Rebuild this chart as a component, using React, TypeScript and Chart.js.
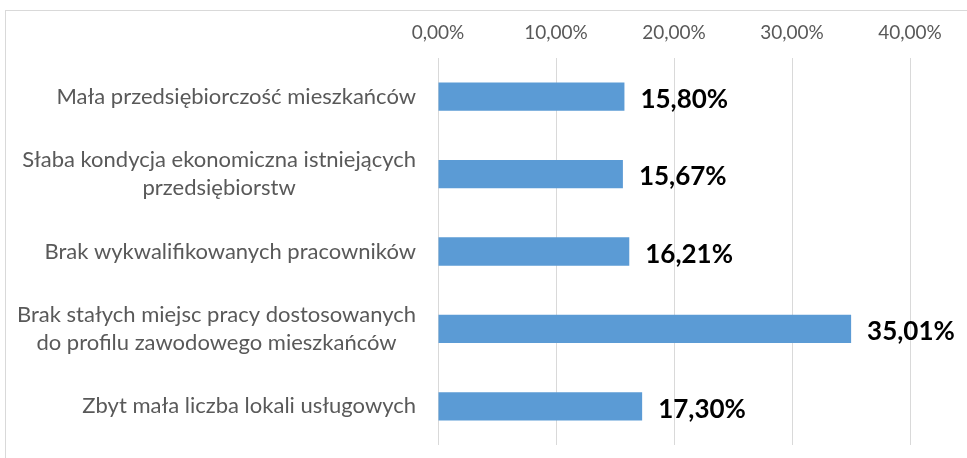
import React, { useEffect, useRef } from "react";
import { Chart, registerables } from "chart.js";

Chart.register(...registerables);

const categories: string[][] = [
  ["Mała przedsiębiorczość mieszkańców"],
  ["Słaba kondycja ekonomiczna istniejących", "przedsiębiorstw"],
  ["Brak wykwalifikowanych pracowników"],
  ["Brak stałych miejsc pracy dostosowanych", "do profilu zawodowego mieszkańców"],
  ["Zbyt mała liczba lokali usługowych"],
];
const values: number[] = [15.8, 15.67, 16.21, 35.01, 17.3];
const tickValues: number[] = [0, 10, 20, 30, 40];

const FONT = "Lato, 'Open Sans', sans-serif";
const fmt = (v: number) => v.toFixed(2).replace(".", ",") + "%";

const labelPlugin = {
  id: "customLabels",
  afterDatasetsDraw(chart: any) {
    const ctx = chart.ctx;
    const yScale = chart.scales.y;
    const xScale = chart.scales.x;
    const area = chart.chartArea;
    ctx.save();
    // category labels
    ctx.font = `22px ${FONT}`;
    ctx.fillStyle = "#595959";
    ctx.textBaseline = "middle";
    categories.forEach((lines, i) => {
      const yc = yScale.getPixelForValue(i);
      const widths = lines.map((l) => ctx.measureText(l).width);
      const maxW = Math.max(...widths);
      const right = area.left - 22;
      const center = right - maxW / 2;
      const lh = 28;
      const y0 = yc - ((lines.length - 1) * lh) / 2;
      ctx.textAlign = "center";
      lines.forEach((l, j) => ctx.fillText(l, center, y0 + j * lh));
    });
    // value labels
    ctx.font = `bold 26px ${FONT}`;
    ctx.fillStyle = "#000000";
    ctx.textAlign = "left";
    values.forEach((v, i) => {
      const x = xScale.getPixelForValue(v);
      const y = yScale.getPixelForValue(i);
      ctx.fillText(fmt(v), x + 16, y + 3);
    });
    ctx.restore();
  },
};

export default function App() {
  const ref = useRef<HTMLCanvasElement>(null);
  useEffect(() => {
    if (!ref.current) return;
    const chart = new Chart(ref.current, {
      type: "bar",
      data: {
        labels: categories.map((c) => c.join(" ")),
        datasets: [
          {
            data: values,
            backgroundColor: "#5B9BD5",
            barPercentage: 0.61,
            categoryPercentage: 0.6,
          },
        ],
      },
      options: {
        indexAxis: "y",
        animation: false,
        responsive: false,
        maintainAspectRatio: false,
        layout: { padding: { left: 438, right: 57, top: 8, bottom: 13 } },
        plugins: { legend: { display: false }, tooltip: { enabled: false } },
        scales: {
          x: {
            position: "top",
            min: 0,
            max: 40,
            afterBuildTicks: (scale: any) => {
              scale.ticks = tickValues.map((v) => ({ value: v }));
            },
            afterFit: (scale: any) => {
              scale.height = 50;
            },
            ticks: {
              callback: (v: any) => fmt(Number(v)),
              font: { family: FONT, size: 19 },
              color: "#595959",
              padding: 14,
            },
            grid: { color: "#d9d9d9", drawTicks: false, lineWidth: 1 },
            border: { display: false },
          },
          y: {
            display: false,
          },
        },
      },
      plugins: [labelPlugin],
    });
    return () => chart.destroy();
  }, []);
  return (
    <div style={{ position: "fixed", left: 0, top: 0, width: 967, height: 458, background: "#fff", overflow: "hidden" }}>
      <div
        style={{
          position: "absolute",
          left: 5,
          top: 10,
          width: 2000,
          height: 2000,
          borderLeft: "1px solid #d9d9d9",
          borderTop: "1px solid #d9d9d9",
        }}
      />
      <canvas ref={ref} width={967} height={458} style={{ position: "absolute", left: 0, top: 0 }} />
    </div>
  );
}
